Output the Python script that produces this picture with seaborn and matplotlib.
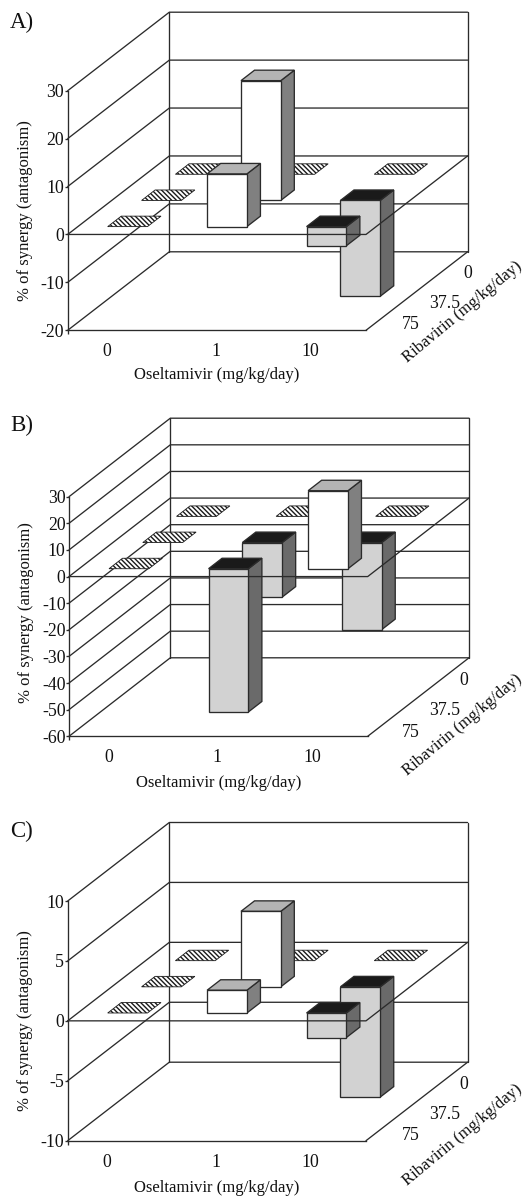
import matplotlib
matplotlib.use("Agg")
import matplotlib.pyplot as plt
from matplotlib.patches import Polygon
from matplotlib.transforms import blended_transform_factory
import numpy as np
import pandas as pd
import seaborn as sns

# ---- data -------------------------------------------------------------
oseltamivir = ["0", "1", "10"]
ribavirin = ["75", "37.5", "0"]   # front row to back row
values_a = [[0, 11, -4], [0, 25, -20], [0, 0, 0]]
values_b = [[0, -53.8, 29.3], [0, -20.5, -32.7], [0, 0, 0]]
values_c = [[0, 1.9, -2.05], [0, 6.3, -9.2], [0, 0, 0]]
ticks_a = [-20, -10, 0, 10, 20, 30]
ticks_b = [-60, -50, -40, -30, -20, -10, 0, 10, 20, 30]
ticks_c = [-10, -5, 0, 5, 10]
letters = ["A)", "B)", "C)"]
xlabel = "Oseltamivir (mg/kg/day)"
ylabel = "% of synergy (antagonism)"
zlabel = "Ribavirin (mg/kg/day)"

# ---- style / layout ---------------------------------------------------
sns.set_theme(style="white")
plt.rcParams["font.family"] = ["Liberation Serif", "DejaVu Serif"]
plt.rcParams["hatch.linewidth"] = 1.0
W, H = 525, 1196
DPI = 100
INK = "#2b2b2b"
LW = 0.95
TICK_FS = 12.8
LABEL_FS = 12.0
BAR_W, BAR_D = 0.4, 0.4   # fraction of a cell
POS = dict(front="#ffffff", top="#b4b4b4", side="#808080")
NEG = dict(front="#d2d2d2", top="#1a1a1a", side="#6a6a6a")

panels = [
    dict(vals=values_a, ticks=ticks_a, letter=letters[0], left=67.7, floor=330.3, top=90.7,
         width=298.3, dx=101.6, dy=78.5, ylab_v=5, letter_y=22.5, xlab_off=45,
         row_off=[(27.4, -7.7), (28, -12.4), (16.7, -8.7)], z_off=(45.3, -20.7)),
    dict(vals=values_b, ticks=ticks_b, letter=letters[1], left=69.0, floor=736.3, top=496.7,
         width=298.7, dx=101.3, dy=78.5, ylab_v=-13.4, letter_y=425, xlab_off=47,
         row_off=[(26.4, -9.7), (26, -13.4), (11.7, -9.7)], z_off=(44.6, -27.7)),
    dict(vals=values_c, ticks=ticks_c, letter=letters[2], left=67.7, floor=1140.7, top=901.0,
         width=298.3, dx=101.6, dy=78.5, ylab_v=0, letter_y=831.5, xlab_off=47,
         row_off=[(27.4, -8), (28, -12.7), (12.7, -9.5)], z_off=(45.3, -33.3)),
]

fig = plt.figure(figsize=(W / DPI, H / DPI), dpi=DPI, facecolor="white")


def draw_panel(p):
    ticks = p["ticks"]
    vmin, vmax = min(ticks), max(ticks)
    ppu = (p["floor"] - p["top"]) / (vmax - vmin)
    cell = p["width"] / 3
    shear_x = p["dx"] / cell
    shear_y = p["dy"] / ppu
    ax_w, ax_h = p["width"] + p["dx"], p["floor"] - p["top"] + p["dy"]
    ax = fig.add_axes([p["left"] / W, 1 - p["floor"] / H, ax_w / W, ax_h / H])
    ax.patch.set_alpha(0)

    def proj(col, depth, val):
        return col + depth * shear_x, val + depth * shear_y

    # wall grid and floor edges through seaborn
    segs = []
    for v in ticks:
        segs.append([(0, 0, v), (0, 1, v), (3, 1, v)])
    segs.append([(0, 1, vmin), (0, 1, vmax)])
    segs.append([(3, 1, vmin), (3, 1, vmax)])
    segs.append([(3, 0, vmin), (3, 1, vmin)])
    rows = []
    for i, s in enumerate(segs):
        for order, q in enumerate(s):
            x, y = proj(*q)
            rows.append(dict(x=x, y=y, seg=i, order=order))
    sns.lineplot(data=pd.DataFrame(rows), x="x", y="y", units="seg", estimator=None,
                 sort=False, color=INK, lw=LW, ax=ax, legend=False, zorder=1, clip_on=False)

    def face(corners, color, z, **kw):
        ax.add_patch(Polygon([proj(*c) for c in corners], closed=True, facecolor=color,
                             edgecolor=INK, lw=LW, zorder=z, clip_on=False, **kw))

    # cells, back row first
    z = 3
    for r in range(2, -1, -1):
        d0 = (r + 0.5 - BAR_D / 2) / 3
        d1 = (r + 0.5 + BAR_D / 2) / 3
        for c in range(3):
            v = p["vals"][r][c]
            c0, c1 = c + 0.5 - BAR_W / 2, c + 0.5 + BAR_W / 2
            if v == 0:
                ax.add_patch(Polygon([proj(c0, d0, 0), proj(c1, d0, 0), proj(c1, d1, 0), proj(c0, d1, 0)],
                                     closed=True, facecolor="white", edgecolor="#1a1a1a",
                                     hatch="\\" * 7, lw=0.6, zorder=z, clip_on=False))
                z += 1
                continue
            pal = POS if v > 0 else NEG
            hi = max(v, 0)
            face([(c1, d0, 0), (c1, d1, 0), (c1, d1, v), (c1, d0, v)], pal["side"], z)
            face([(c0, d0, hi), (c1, d0, hi), (c1, d1, hi), (c0, d1, hi)], pal["top"], z + 1)
            face([(c0, d0, 0), (c1, d0, 0), (c1, d0, v), (c0, d0, v)], pal["front"], z + 2)
            z += 3

    # zero plane outline sits above the bars
    xs, ys = zip(*[proj(0, 0, 0), proj(3, 0, 0), proj(3, 1, 0)])
    ax.plot(xs, ys, color=INK, lw=LW, zorder=50, clip_on=False)

    # axes
    ax.set_xlim(0, 3 + shear_x)
    ax.set_ylim(vmin, vmax + shear_y)
    for s in ("top", "right"):
        ax.spines[s].set_visible(False)
    ax.spines["left"].set_bounds(vmin, vmax)
    ax.spines["bottom"].set_bounds(0, 3)
    for s in ("left", "bottom"):
        ax.spines[s].set_color(INK)
        ax.spines[s].set_linewidth(LW)
    ax.set_yticks(ticks, [str(t) for t in ticks])
    ax.tick_params(axis="y", left=True, length=2, width=LW, color=INK, pad=0.5,
                   labelsize=TICK_FS, labelcolor="#111111")
    ax.set_xticks([0.395, 1.49, 2.44], oseltamivir)
    ax.tick_params(axis="x", which="major", bottom=False, length=0, pad=9.5,
                   labelsize=TICK_FS, labelcolor="#111111")
    ax.set_xticks([0], minor=True)
    ax.tick_params(axis="x", which="minor", bottom=True, length=3, width=LW, color=INK)

    ax.set_xlabel(xlabel, fontsize=LABEL_FS, color="#111111", va="center")
    ax.xaxis.set_label_coords(1.5, -p["xlab_off"] / ax_h,
                              transform=blended_transform_factory(ax.transData, ax.transAxes))
    ax.set_ylabel(ylabel, fontsize=LABEL_FS, color="#111111", va="center")
    ax.yaxis.set_label_coords(-42.7 / ax_w, p["ylab_v"],
                              transform=blended_transform_factory(ax.transAxes, ax.transData))

    # depth axis labels
    for r, name in enumerate(ribavirin):
        ax.annotate(name, proj(3, (r + 0.5) / 3, vmin), xytext=p["row_off"][r],
                    textcoords="offset pixels", ha="center", va="center",
                    fontsize=TICK_FS, color="#111111", annotation_clip=False)
    ax.annotate(zlabel, proj(3, 0.5, vmin), xytext=p["z_off"], textcoords="offset pixels",
                ha="center", va="center", rotation=39.7, rotation_mode="anchor",
                fontsize=LABEL_FS, color="#111111", annotation_clip=False)

    fig.text(10 / W, 1 - p["letter_y"] / H, p["letter"], fontsize=16.5, color="#111111",
             ha="left", va="center")


for p in panels:
    draw_panel(p)

fig.savefig("out.png", dpi=DPI, facecolor="white")
